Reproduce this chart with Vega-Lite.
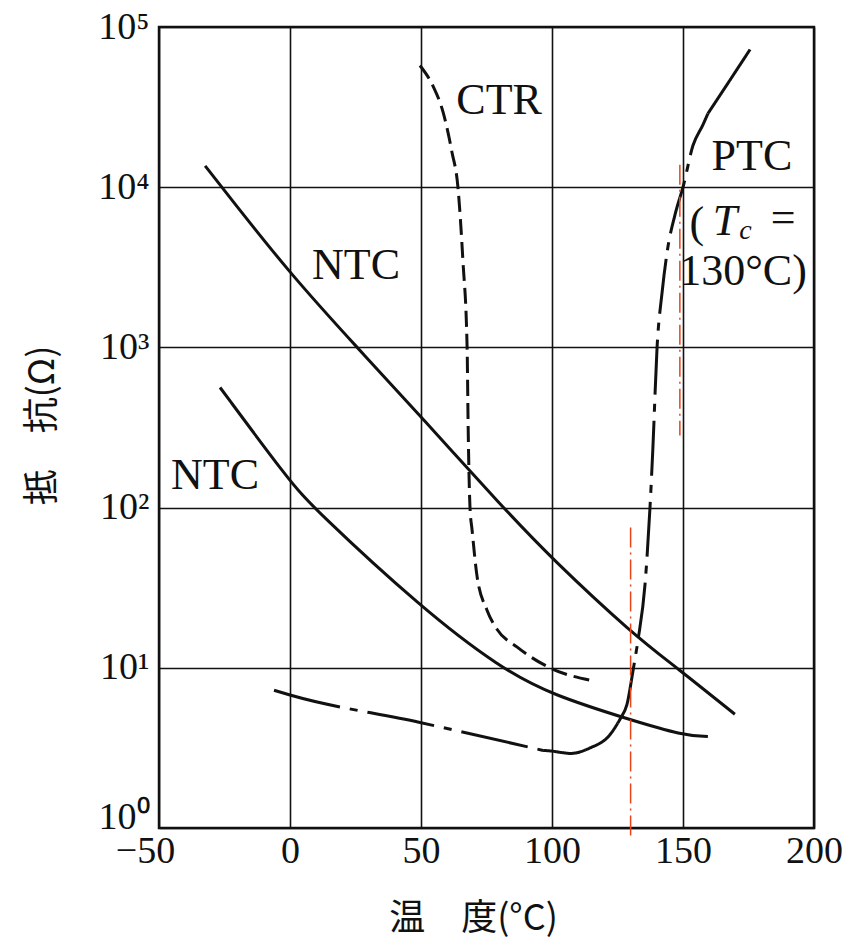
{
  "$schema": "https://vega.github.io/schema/vega-lite/v6.json",
  "width": 655,
  "height": 801,
  "autosize": {"type": "none"},
  "padding": {"left": 159, "top": 27, "right": 47, "bottom": 112},
  "background": "white",
  "datasets": {
    "curves": [
      {"curve": "NTC-1", "T": -32.4, "R": 13600},
      {"curve": "NTC-1", "T": -26, "R": 10000},
      {"curve": "NTC-1", "T": 0, "R": 2880},
      {"curve": "NTC-1", "T": 25.6, "R": 1000},
      {"curve": "NTC-1", "T": 50.4, "R": 363},
      {"curve": "NTC-1", "T": 81.3, "R": 100},
      {"curve": "NTC-1", "T": 100, "R": 47.9},
      {"curve": "NTC-1", "T": 130.9, "R": 16.2},
      {"curve": "NTC-1", "T": 147.7, "R": 10},
      {"curve": "NTC-1", "T": 169.8, "R": 5.13},
      {"curve": "NTC-2", "T": -26.7, "R": 562},
      {"curve": "NTC-2", "T": 0, "R": 145},
      {"curve": "NTC-2", "T": 8.8, "R": 100},
      {"curve": "NTC-2", "T": 50.4, "R": 23.4},
      {"curve": "NTC-2", "T": 80.2, "R": 10},
      {"curve": "NTC-2", "T": 100, "R": 6.76},
      {"curve": "NTC-2", "T": 130.9, "R": 4.68},
      {"curve": "NTC-2", "T": 149.6, "R": 3.8},
      {"curve": "NTC-2", "T": 159.5, "R": 3.72},
      {"curve": "CTR", "T": 49.6, "R": 57500},
      {"curve": "CTR", "T": 54.6, "R": 42700},
      {"curve": "CTR", "T": 58.4, "R": 29500},
      {"curve": "CTR", "T": 61.8, "R": 16600},
      {"curve": "CTR", "T": 64.1, "R": 10000},
      {"curve": "CTR", "T": 66.0, "R": 3470},
      {"curve": "CTR", "T": 67.6, "R": 1000},
      {"curve": "CTR", "T": 68.0, "R": 316},
      {"curve": "CTR", "T": 68.7, "R": 100},
      {"curve": "CTR", "T": 69.5, "R": 72.4},
      {"curve": "CTR", "T": 71.4, "R": 37.2},
      {"curve": "CTR", "T": 75.2, "R": 22.9},
      {"curve": "CTR", "T": 79.0, "R": 17.4},
      {"curve": "CTR", "T": 86.6, "R": 13.5},
      {"curve": "CTR", "T": 99.2, "R": 10},
      {"curve": "CTR", "T": 115.3, "R": 8.32},
      {"curve": "PTC-low", "T": -6.1, "R": 7.24},
      {"curve": "PTC-low", "T": 0, "R": 6.76},
      {"curve": "PTC-low", "T": 49.2, "R": 4.57},
      {"curve": "PTC-low", "T": 96.6, "R": 3.05},
      {"curve": "PTC-arc", "T": 96.6, "R": 3.05},
      {"curve": "PTC-arc", "T": 100, "R": 3.02},
      {"curve": "PTC-arc", "T": 104.2, "R": 2.95},
      {"curve": "PTC-arc", "T": 107, "R": 2.92},
      {"curve": "PTC-arc", "T": 114.5, "R": 3.16},
      {"curve": "PTC-arc", "T": 122, "R": 3.8},
      {"curve": "PTC-arc", "T": 126.7, "R": 5.01},
      {"curve": "PTC-rise", "T": 126.7, "R": 5.01},
      {"curve": "PTC-rise", "T": 128.6, "R": 5.89},
      {"curve": "PTC-rise", "T": 131, "R": 9.77},
      {"curve": "PTC-rise", "T": 132.8, "R": 14.8},
      {"curve": "PTC-rise", "T": 135.5, "R": 33.1},
      {"curve": "PTC-rise", "T": 137.4, "R": 100},
      {"curve": "PTC-rise", "T": 138.5, "R": 234},
      {"curve": "PTC-rise", "T": 140.1, "R": 1000},
      {"curve": "PTC-rise", "T": 142, "R": 2190},
      {"curve": "PTC-rise", "T": 143.9, "R": 3890},
      {"curve": "PTC-rise", "T": 147.3, "R": 7080},
      {"curve": "PTC-rise", "T": 150, "R": 10000},
      {"curve": "PTC-rise", "T": 153.8, "R": 18200},
      {"curve": "PTC-rise", "T": 157.6, "R": 24500},
      {"curve": "PTC-rise", "T": 159.5, "R": 28800},
      {"curve": "PTC-top", "T": 159.5, "R": 28800},
      {"curve": "PTC-top", "T": 168, "R": 46800},
      {"curve": "PTC-top", "T": 175.6, "R": 72400}
    ],
    "refs": [
      {"line": "Tc130", "T": 130, "R": 75},
      {"line": "Tc130", "T": 130, "R": 0.877},
      {"line": "T150", "T": 148.8, "R": 13800},
      {"line": "T150", "T": 148.8, "R": 282}
    ],
    "labels": [
      {"label": "NTC", "T": 25.2, "R": 3240},
      {"label": "NTC", "T": -28.6, "R": 158},
      {"label": "CTR", "T": 79.8, "R": 34600},
      {"label": "PTC", "T": 176.3, "R": 15400},
      {"label": "(", "T": 155.3, "R": 5890},
      {"label": "T", "T": 166.0, "R": 6100},
      {"label": "c", "T": 173.8, "R": 5300},
      {"label": "=", "T": 188.2, "R": 6300},
      {"label": "130°C)", "T": 172.9, "R": 2950}
    ]
  },
  "config": {
    "view": {"stroke": "#111", "strokeWidth": 2.5},
    "axis": {
      "grid": true,
      "gridColor": "#111",
      "gridWidth": 1.6,
      "gridOpacity": 1,
      "domain": false,
      "ticks": false,
      "labelFont": "Liberation Serif",
      "labelFontSize": 38,
      "labelColor": "#111",
      "labelFlush": false,
      "labelOverlap": false,
      "titleFont": "Noto Sans CJK JP",
      "titleFontSize": 36,
      "titleFontWeight": "normal",
      "titleColor": "#111"
    }
  },
  "encoding": {
    "x": {
      "field": "T",
      "type": "quantitative",
      "scale": {"domain": [-50, 200], "nice": false, "zero": false},
      "axis": {
        "values": [-50, 0, 50, 100, 150, 200],
        "title": "温　度(°C)",
        "labelPadding": 4,
        "labelOffset": {"condition": {"test": "datum.value < 0", "value": -14}, "value": 0},
        "titleX": 314,
        "titleY": 90,
        "titleBaseline": "middle"
      }
    },
    "y": {
      "field": "R",
      "type": "quantitative",
      "scale": {"type": "log", "domain": [1, 100000], "nice": false},
      "axis": {
        "values": [1, 10, 100, 1000, 10000, 100000],
        "labelExpr": "'10' + ['⁰','¹','²','³','⁴','⁵'][round(log(datum.value)/LN10)]",
        "labelPadding": 10,
        "labelBaseline": {"condition": {"test": "datum.value < 2", "value": "alphabetic"}, "value": "middle"},
        "title": "抵　抗(Ω)",
        "titleAngle": -90,
        "titleX": -117,
        "titleY": 398,
        "titleBaseline": "middle"
      }
    }
  },
  "layer": [
    {
      "data": {"name": "curves"},
      "transform": [{"filter": "indexof(['NTC-1','NTC-2'], datum.curve) >= 0"}],
      "mark": {"type": "line", "interpolate": "basis", "strokeWidth": 3, "color": "#111"},
      "encoding": {"detail": {"field": "curve"}}
    },
    {
      "data": {"name": "curves"},
      "transform": [{"filter": "indexof(['NTC-1','NTC-2'], datum.curve) < 0"}],
      "mark": {"type": "line", "interpolate": "monotone", "strokeWidth": 3, "color": "#111"},
      "encoding": {
        "detail": {"field": "curve"},
        "strokeDash": {
          "field": "curve",
          "type": "nominal",
          "scale": {
            "domain": ["CTR", "PTC-low", "PTC-arc", "PTC-rise", "PTC-top"],
            "range": [[16, 7], [68, 10, 8, 10], [1, 0], [55, 9, 8, 9], [1, 0]]
          },
          "legend": null
        }
      }
    },
    {
      "data": {"name": "refs"},
      "mark": {"type": "line", "strokeWidth": 1.5, "color": "#e8441a", "strokeDash": [20, 5, 2, 5], "clip": false},
      "encoding": {"detail": {"field": "line"}}
    },
    {
      "data": {"name": "labels"},
      "transform": [{"filter": "datum.label != 'T' && datum.label != 'c'"}],
      "mark": {"type": "text", "font": "Liberation Serif", "fontSize": 44, "color": "#111", "align": "center", "baseline": "middle"},
      "encoding": {"text": {"field": "label"}}
    },
    {
      "data": {"name": "labels"},
      "transform": [{"filter": "datum.label == 'T'"}],
      "mark": {"type": "text", "font": "Liberation Serif", "fontSize": 44, "fontStyle": "italic", "color": "#111", "align": "center", "baseline": "middle"},
      "encoding": {"text": {"field": "label"}}
    },
    {
      "data": {"name": "labels"},
      "transform": [{"filter": "datum.label == 'c'"}],
      "mark": {"type": "text", "font": "Liberation Serif", "fontSize": 28, "fontStyle": "italic", "color": "#111", "align": "center", "baseline": "middle"},
      "encoding": {"text": {"field": "label"}}
    }
  ]
}
